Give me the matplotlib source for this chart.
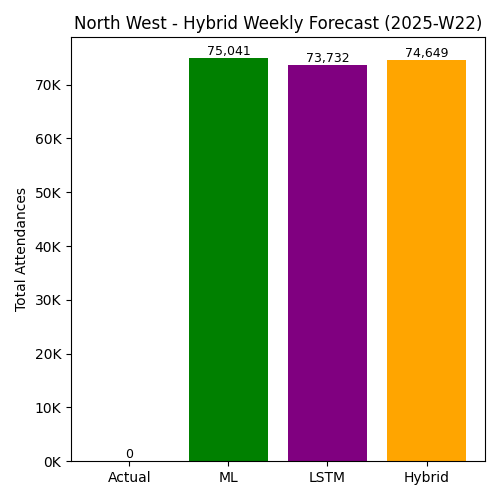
import matplotlib
matplotlib.use('Agg')
import matplotlib.pyplot as plt
from matplotlib.ticker import FuncFormatter

models = ['Actual', 'ML', 'LSTM', 'Hybrid']
values = [0, 75041, 73732, 74649]
colors = ['blue', 'green', 'purple', 'orange']

fig, ax = plt.subplots(figsize=(5, 5), dpi=100)
bars = ax.bar(models, values, color=colors)
for b, v in zip(bars, values):
    ax.text(b.get_x() + b.get_width() / 2, v, f'{v:,}', ha='center', va='bottom', fontsize=9)

ax.yaxis.set_major_formatter(FuncFormatter(lambda x, p: f'{int(x / 1000)}K'))
ax.set_ylabel('Total Attendances')
ax.set_title('North West - Hybrid Weekly Forecast (2025-W22)')
plt.tight_layout()
plt.savefig('out.png')
